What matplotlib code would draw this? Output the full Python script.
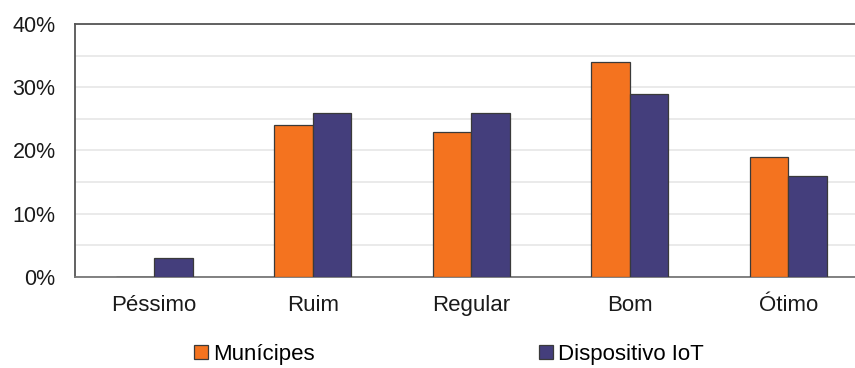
import matplotlib
matplotlib.use('Agg')
import matplotlib.pyplot as plt
import numpy as np
from matplotlib.patches import Patch

plt.rcParams['font.family'] = ['Liberation Sans', 'DejaVu Sans']

categories = ['Péssimo', 'Ruim', 'Regular', 'Bom', 'Ótimo']
municipes = [0, 24, 23, 34, 19]
dispositivo = [3, 26, 26, 29, 16]
series_labels = ['Munícipes', 'Dispositivo IoT']
colors = ['#F4731F', '#443E7C']

fig = plt.figure(figsize=(8.55, 3.68), dpi=100)
ax = fig.add_axes([0.0877, 0.2473, 0.927, 0.6875])

x = np.arange(len(categories))
width = 0.243
ax.bar(x - width / 2, municipes, width, color=colors[0], edgecolor='#3a3a3a', linewidth=0.9, zorder=3)
ax.bar(x + width / 2, dispositivo, width, color=colors[1], edgecolor='#3a3a3a', linewidth=0.9, zorder=3)

ax.set_xlim(-0.5, len(categories) - 0.5)
ax.set_ylim(0, 40)
ax.set_yticks(np.arange(0, 41, 10))
ax.set_yticklabels([f'{v}%' for v in range(0, 41, 10)], fontsize=15.5, color='#1a1a1a')
ax.set_yticks(np.arange(0, 41, 5), minor=True)
ax.set_xticks(x)
ax.set_xticklabels(categories, fontsize=16, color='#1a1a1a')
ax.tick_params(axis='y', which='both', length=0, pad=14)
ax.tick_params(axis='x', length=0, pad=13)
ax.grid(True, axis='y', which='both', color='#e6e6e6', linewidth=1.2, zorder=0)

for side in ['top', 'left', 'right']:
    ax.spines[side].set_color('#555555')
    ax.spines[side].set_linewidth(1.3)
ax.spines['bottom'].set_color('#777777')
ax.spines['bottom'].set_linewidth(1.3)

# legend sits low, under the category labels
handles = [Patch(facecolor=c, edgecolor='#3a3a3a', linewidth=0.9) for c in colors]
fig.legend(handles, series_labels, loc='center left', bbox_to_anchor=(194 / 855, 0.037),
           ncol=2, frameon=False, fontsize=16, handlelength=0.63, handleheight=0.63,
           handletextpad=0.22, columnspacing=10.1, borderaxespad=0, borderpad=0)

fig.savefig('out.png', dpi=100)
